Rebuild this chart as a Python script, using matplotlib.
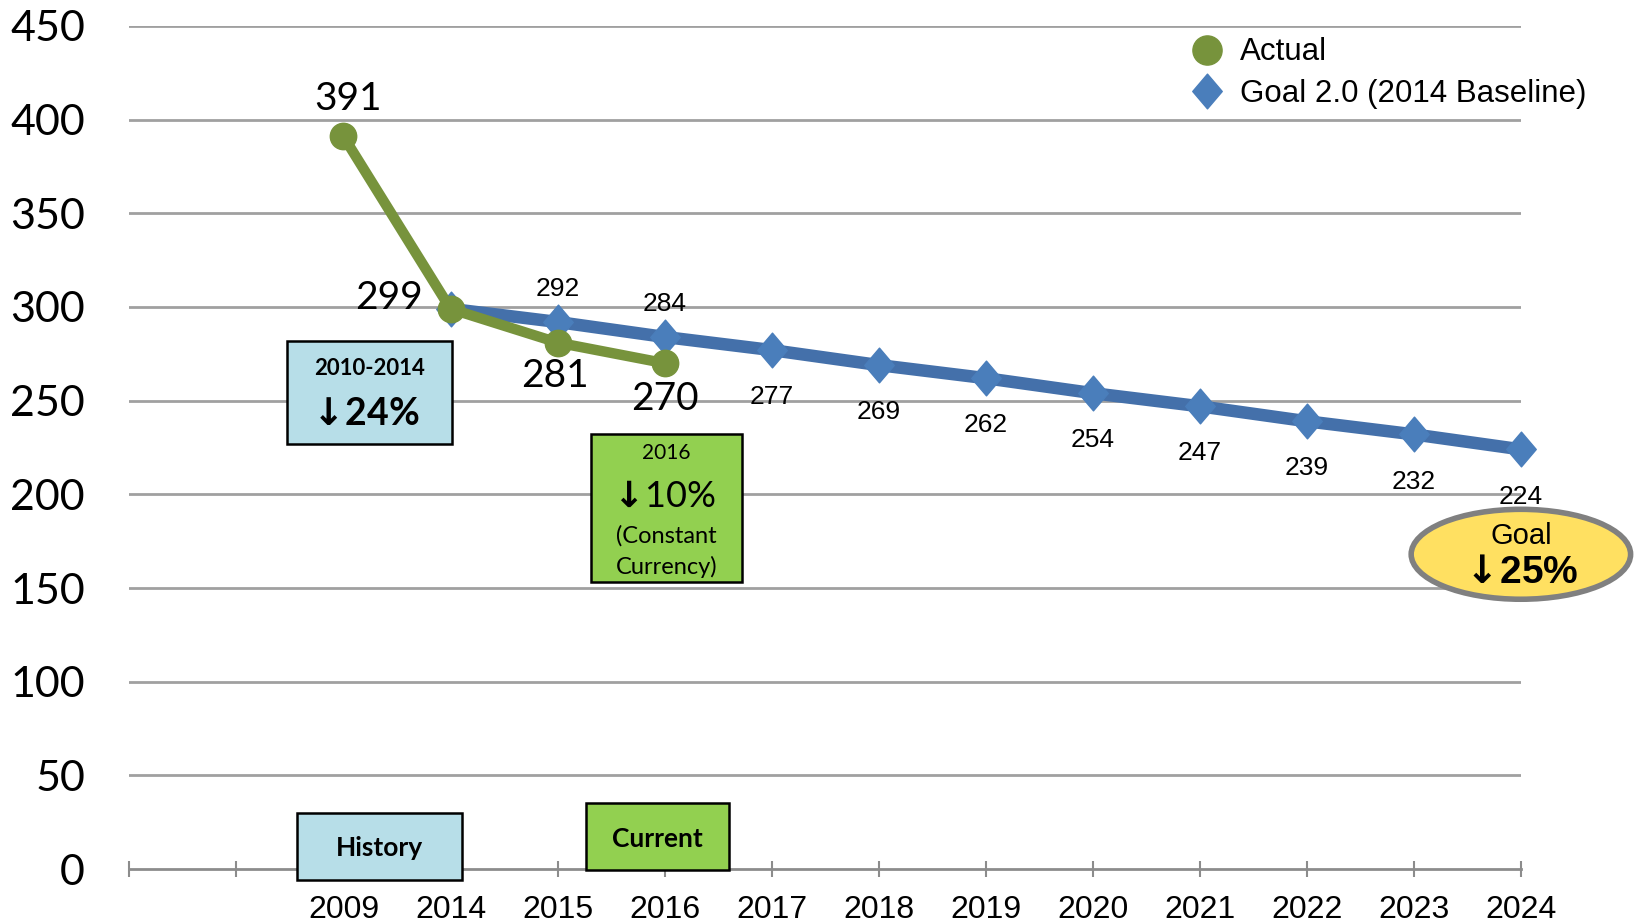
import numpy as np
import matplotlib
matplotlib.use('Agg')
import matplotlib.pyplot as plt
from matplotlib.patches import Rectangle, Ellipse
from matplotlib.path import Path
from matplotlib.lines import Line2D

# data
years = ['', '', '2009', '2014', '2015', '2016', '2017', '2018', '2019',
         '2020', '2021', '2022', '2023', '2024']
actual_years = ['2009', '2014', '2015', '2016']
actual_vals = [391, 299, 281, 270]
goal_years = ['2014', '2015', '2016', '2017', '2018', '2019', '2020',
              '2021', '2022', '2023', '2024']
goal_vals = [299, 292, 284, 277, 269, 262, 254, 247, 239, 232, 224]
y_ticks = [0, 50, 100, 150, 200, 250, 300, 350, 400, 450]

CAL = ['Lato', 'DejaVu Sans']
ARI = ['Liberation Sans', 'DejaVu Sans']
GREEN = '#77933C'
BLUE_LINE = '#4470AA'
BLUE_MK = '#4A7EBB'
ARROW = r'$\mathbf{\downarrow}\!$'

pos = {y: i for i, y in enumerate(years) if y}
ax_x = [pos[y] for y in actual_years]
gx = [pos[y] for y in goal_years]

diamond = Path([(0, 1), (0.85, 0), (0, -1), (-0.85, 0), (0, 1)],
               [Path.MOVETO, Path.LINETO, Path.LINETO, Path.LINETO, Path.CLOSEPOLY])

fig = plt.figure(figsize=(16.38, 9.24), dpi=100)
ax = fig.add_axes([0.079, 0.0595, 0.8495, 0.9124])

ax.plot(gx, goal_vals, color=BLUE_LINE, lw=9, marker=diamond, markersize=25,
        markerfacecolor=BLUE_MK, markeredgecolor=BLUE_MK, zorder=3, clip_on=False)
ax.plot(ax_x, actual_vals, color=GREEN, lw=7.5, marker='o', markersize=19,
        markerfacecolor=GREEN, markeredgecolor=GREEN, zorder=4, clip_on=False)

ax.set_xlim(0, 13)
ax.set_ylim(0, 450)
ax.set_yticks(y_ticks)
ax.set_yticklabels([str(v) for v in y_ticks], family=CAL, fontsize=31)
ax.set_xticks(range(len(years)))
ax.set_xticklabels(years, family=ARI, fontsize=23)
ax.tick_params(axis='y', length=0, pad=32)
ax.tick_params(axis='x', direction='inout', length=12, width=1.5, color='#8C8C8C', pad=13)
for s in ['top', 'right', 'left']:
    ax.spines[s].set_visible(False)
ax.spines['bottom'].set_color('#8C8C8C')
ax.spines['bottom'].set_linewidth(2)
for v in y_ticks[1:]:
    ax.axhline(v, color='#A0A0A0', lw=2, zorder=1)

# actual labels
ax.annotate('391', (ax_x[0], actual_vals[0]), xytext=(3, 27), textcoords='offset points',
            ha='center', va='center', family=CAL, fontsize=28)
ax.annotate('299', (ax_x[1], actual_vals[1]), xytext=(-44, 8), textcoords='offset points',
            ha='center', va='center', family=CAL, fontsize=28)
ax.annotate('281', (ax_x[2], actual_vals[2]), xytext=(-2, -24), textcoords='offset points',
            ha='center', va='center', family=CAL, fontsize=28)
ax.annotate('270', (ax_x[3], actual_vals[3]), xytext=(0, -26), textcoords='offset points',
            ha='center', va='center', family=CAL, fontsize=28)

# goal labels
for i, (x, v) in enumerate(zip(gx, goal_vals)):
    if i == 0:
        continue
    dy = 24 if i in (1, 2) else -34
    ax.annotate(str(v), (x, v), xytext=(0, dy), textcoords='offset points',
                ha='center', va='center', family=ARI, fontsize=19)

# boxes
def box(x0, x1, y0, y1, color):
    ax.add_patch(Rectangle((x0, y0), x1 - x0, y1 - y0, facecolor=color,
                           edgecolor='black', lw=1.8, zorder=6, clip_on=False))

box(1.47, 3.01, 227, 282, '#B7DEE8')
ax.text(2.24, 267, '2010-2014', ha='center', va='center', family=CAL,
        fontsize=16, fontweight='bold', zorder=7)
ax.text(2.18, 243, ARROW + '24%', ha='center', va='center', family=CAL,
        fontsize=27, fontweight='bold', zorder=7)

box(1.57, 3.11, -6, 30, '#B7DEE8')
ax.text(2.34, 11, 'History', ha='center', va='center', family=CAL,
        fontsize=19, fontweight='bold', zorder=7)

box(4.31, 5.72, 153, 232, '#92D050')
ax.text(5.015, 222, '2016', ha='center', va='center', family=CAL, fontsize=15, zorder=7)
ax.text(4.965, 199, ARROW + '10%', ha='center', va='center', family=CAL, fontsize=26, zorder=7)
ax.text(5.015, 178, '(Constant', ha='center', va='center', family=CAL, fontsize=17, zorder=7)
ax.text(5.015, 161, 'Currency)', ha='center', va='center', family=CAL, fontsize=17, zorder=7)

box(4.27, 5.60, -0.5, 35, '#92D050')
ax.text(4.935, 16, 'Current', ha='center', va='center', family=CAL,
        fontsize=19, fontweight='bold', zorder=7)

ax.add_patch(Ellipse((13.0, 168), 2.05, 48, facecolor='#FFE061',
                     edgecolor='#808080', lw=4, zorder=6, clip_on=False))
ax.text(13.0, 178, 'Goal', ha='center', va='center', family=ARI, fontsize=21, zorder=7)
ax.text(12.97, 158, ARROW + '25%', ha='center', va='center', family=ARI,
        fontsize=28, fontweight='bold', zorder=7)

handles = [
    Line2D([], [], ls='', marker='o', markersize=21, color=GREEN),
    Line2D([], [], ls='', marker=diamond, markersize=25, color=BLUE_MK),
]
fig.legend(handles, ['Actual', 'Goal 2.0 (2014 Baseline)'], loc='upper left',
           bbox_to_anchor=(0.72, 0.973), frameon=False,
           prop={'family': ARI, 'size': 22.5}, handlelength=1.0, handletextpad=0.55,
           labelspacing=0.38, borderaxespad=0)

fig.savefig('out.png', dpi=100)
